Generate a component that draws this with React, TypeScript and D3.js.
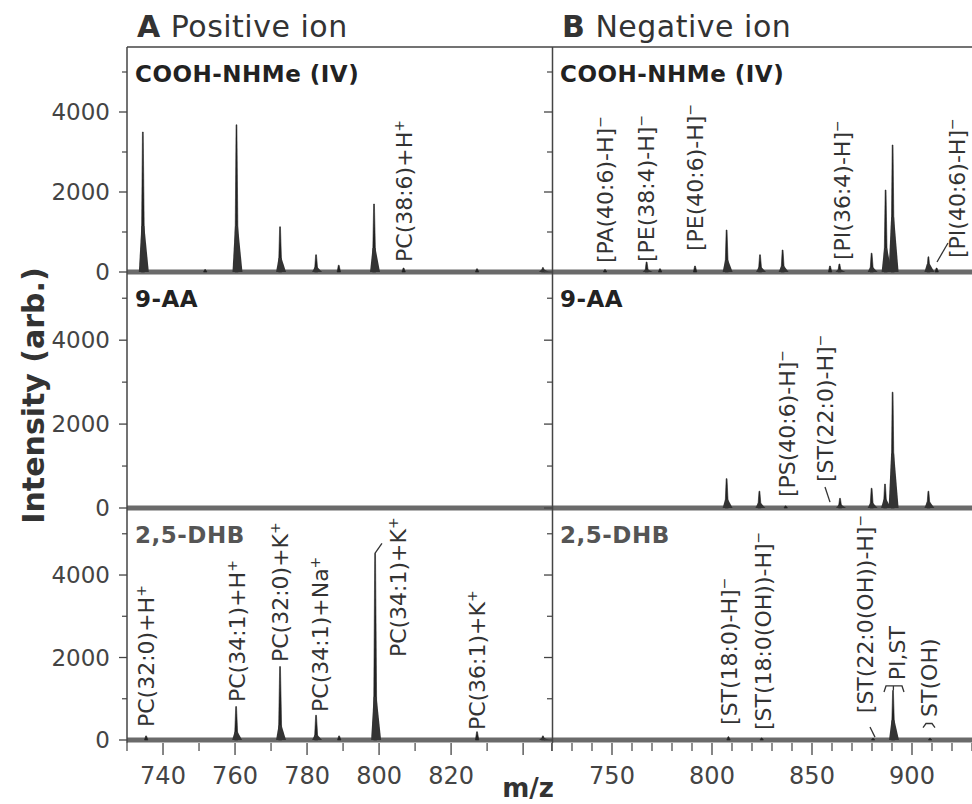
import React from 'react';
import * as d3 from 'd3';

const FONT = '"DejaVu Sans", Verdana, sans-serif';

// ---------- axis data ----------
const yMax = 5625;
const yMajorTicks = [0, 2000, 4000];
const yMinorTicks = [1000, 3000, 5000];
const posMzDomain = [730, 848.3];
const negMzDomain = [720, 932];
const posMajorTicks = [740, 760, 780, 800, 820, 840];
const posTickLabels = [740, 760, 780, 800, 820];
const posMinorTicks = [730, 750, 770, 790, 810, 830, 848];
const negMajorTicks = [750, 800, 850, 900];
const negMinorTicks = [720, 730, 740, 760, 770, 780, 790, 810, 820, 830, 840, 860, 870, 880, 890, 910, 920, 930];
const matrixNames = ['COOH-NHMe (IV)', '9-AA', '2,5-DHB'];

// ---------- peaks: [m/z, apex intensity, broad-base intensity] ----------
const posCoohPeaks = [
  [734.4, 3500, 1150], [751.7, 60, 0], [760.4, 3680, 1150], [772.5, 1130, 350],
  [782.5, 430, 120], [788.8, 170, 0], [798.6, 1700, 600], [806.8, 100, 0],
  [827.2, 80, 0], [845.5, 110, 60],
];
const pos9aaPeaks: number[][] = [];
const posDhbPeaks = [
  [735.3, 100, 0], [760.3, 810, 200], [772.5, 1780, 360], [782.5, 600, 120],
  [788.9, 100, 0], [798.9, 4530, 1050], [827.2, 200, 0], [845.5, 100, 50],
];
const negCoohPeaks = [
  [746.5, 60, 0], [767.3, 250, 60], [774, 80, 0], [791.5, 150, 0], [807.3, 1050, 300],
  [824, 430, 120], [835.3, 550, 150], [859, 150, 0], [863.7, 200, 60], [879.8, 470, 120],
  [886.8, 2050, 600], [890.3, 3175, 1370], [908.2, 380, 200], [912.3, 100, 0],
];
const neg9aaPeaks = [
  [807.3, 700, 200], [823.7, 400, 120], [836.8, 50, 0], [864, 230, 80],
  [879.8, 470, 120], [886.5, 570, 200], [890.3, 2760, 1300], [908.2, 400, 150],
];
const negDhbPeaks = [
  [808.2, 80, 0], [824.8, 50, 0], [880.5, 40, 0], [890.5, 1200, 480], [909, 40, 0],
];

// ---------- labels: [text, superscript, m/z (centre), intensity (bottom of text)] ----------
const posCoohLabels = [['PC(38:6)+H', '+', 806.9, 250]];
const pos9aaLabels: (string | number)[][] = [];
const posDhbLabels = [
  ['PC(32:0)+H', '+', 735.4, 315], ['PC(34:1)+H', '+', 760.7, 920],
  ['PC(32:0)+K', '+', 772.6, 1890], ['PC(34:1)+Na', '+', 783.5, 680],
  ['PC(34:1)+K', '+', 805.4, 2010], ['PC(36:1)+K', '+', 827.2, 240],
];
const negCoohLabels = [
  ['[PA(40:6)-H]', '−', 746.5, 225], ['[PE(38:4)-H]', '−', 767, 250],
  ['[PE(40:6)-H]', '−', 791.5, 525], ['[PI(36:4)-H]', '−', 864.9, 300],
  ['[PI(40:6)-H]', '−', 922.3, 350],
];
const neg9aaLabels = [
  ['[PS(40:6)-H]', '−', 837.3, 260], ['[ST(22:0)-H]', '−', 856.5, 620],
];
const negDhbLabels = [
  ['[ST(18:0)-H]', '−', 808.5, 365], ['[ST(18:0(OH))-H]', '−', 825.7, 240],
  ['[ST(22:0(OH))-H]', '−', 876.5, 650], ['PI,ST', '', 892.3, 1450],
  ['ST(OH)', '', 908.5, 560],
];

// ---------- leader lines: polylines of [m/z, intensity] ----------
const posCoohLeaders: number[][][] = [];
const pos9aaLeaders: number[][][] = [];
const posDhbLeaders = [[[798.9, 4530], [800.8, 4770]]];
const negCoohLeaders = [[[918, 725], [912.5, 250]]];
const neg9aaLeaders = [[[856.5, 500], [859, 140]]];
const negDhbLeaders = [
  [[879, 315], [881.5, 70]],
  [[886, 1165], [887, 1310], [895, 1310], [896, 1165]],
  [[890.7, 1310], [890.7, 1200]],
  [[905.5, 300], [907, 400], [910, 400], [911.5, 300]],
];

// ---------- layout ----------
const W = 972, H = 804;
const panelTops = [47, 272, 508];
const panelBottoms = [272, 508, 740];
const posX = d3.scaleLinear().domain(posMzDomain).range([127, 553]);
const negX = d3.scaleLinear().domain(negMzDomain).range([552, 976]);

const posPanels = [
  { peaks: posCoohPeaks, labels: posCoohLabels, leaders: posCoohLeaders },
  { peaks: pos9aaPeaks, labels: pos9aaLabels, leaders: pos9aaLeaders },
  { peaks: posDhbPeaks, labels: posDhbLabels, leaders: posDhbLeaders },
];
const negPanels = [
  { peaks: negCoohPeaks, labels: negCoohLabels, leaders: negCoohLeaders },
  { peaks: neg9aaPeaks, labels: neg9aaLabels, leaders: neg9aaLeaders },
  { peaks: negDhbPeaks, labels: negDhbLabels, leaders: negDhbLeaders },
];

function Spectrum({ x, y, peaks, labels, leaders, k }: any) {
  const y0 = y(0);
  const line = d3.line<number[]>().x((d) => x(d[0])).y((d) => y(d[1]));
  return (
    <g>
      <line x1={x.range()[0]} x2={Math.min(x.range()[1], W + 5)} y1={y0} y2={y0} stroke="#6a6a6a" strokeWidth={5} />
      {peaks.map((p: number[], i: number) => {
        const px = x(p[0]);
        const spike = `M${px - 1.6},${y0} L${px - 0.4},${y(p[1])} L${px + 0.4},${y(p[1])} L${px + 1.8},${y0} Z`;
        const base = p[2] > 0
          ? `M${px - 4},${y0} L${px - 1.5},${y(p[2])} L${px + 1.5},${y(p[2])} L${px + 6},${y0} Z`
          : '';
        return (
          <g key={`${k}-p-${i}`}>
            <path d={spike} fill="#222" stroke="#222" strokeWidth={0.6} />
            {base && <path d={base} fill="#333" />}
          </g>
        );
      })}
      {leaders.map((l: number[][], i: number) => (
        <path key={`${k}-l-${i}`} d={line(l) || ''} fill="none" stroke="#333" strokeWidth={1.3} />
      ))}
      {labels.map((l: any[], i: number) => (
        <text
          key={`${k}-t-${i}`}
          transform={`translate(${x(l[2])},${y(l[3])}) rotate(-90)`}
          dy="0.36em"
          fontFamily={FONT}
          fontSize={22}
          fill="#333"
        >
          {l[0]}
          {l[1] && <tspan dy={-8} fontSize={14}>{l[1]}</tspan>}
        </text>
      ))}
    </g>
  );
}

export default function App() {
  const ys = panelTops.map((t, i) => d3.scaleLinear().domain([0, yMax]).range([panelBottoms[i], t]));
  const bottomY = panelBottoms[2];
  const axisColor = '#444';
  return (
    <svg
      width={W}
      height={H}
      viewBox={`0 0 ${W} ${H}`}
      style={{ position: 'absolute', left: 0, top: 0, background: '#fff' }}
    >
      <rect x={0} y={0} width={W} height={H} fill="#fff" />
      {/* titles */}
      <text x={137} y={37} fontFamily={FONT} fontSize={30} fill="#333" letterSpacing={0.5}>
        <tspan fontWeight="bold">A</tspan> Positive ion
      </text>
      <text x={562} y={37} fontFamily={FONT} fontSize={30} fill="#333" letterSpacing={0.5}>
        <tspan fontWeight="bold">B</tspan> Negative ion
      </text>

      {/* spectra */}
      {ys.map((y, i) => (
        <g key={`pp-${i}`}>
          <Spectrum x={posX} y={y} k={`pos${i}`} {...posPanels[i]} />
          <Spectrum x={negX} y={y} k={`neg${i}`} {...negPanels[i]} />
        </g>
      ))}

      {/* frame */}
      <line x1={127} x2={W} y1={47} y2={47} stroke={axisColor} strokeWidth={1.5} />
      <line x1={127} x2={127} y1={47} y2={bottomY + 3} stroke={axisColor} strokeWidth={1.5} />
      <line x1={552.5} x2={552.5} y1={47} y2={bottomY + 3} stroke={axisColor} strokeWidth={1.5} />

      {/* y axes */}
      {ys.map((y, i) => (
        <g key={`ya-${i}`}>
          {yMajorTicks.map((t) => (
            <g key={`yM-${i}-${t}`}>
              <line x1={119} x2={127} y1={y(t)} y2={y(t)} stroke={axisColor} strokeWidth={1.3} />
              <line x1={544} x2={552} y1={y(t)} y2={y(t)} stroke={axisColor} strokeWidth={1.3} />
              <text x={110} y={y(t)} dy="0.36em" textAnchor="end" fontFamily={FONT} fontSize={23} fill="#444">
                {t}
              </text>
            </g>
          ))}
          {yMinorTicks.map((t) => (
            <g key={`ym-${i}-${t}`}>
              <line x1={122} x2={127} y1={y(t)} y2={y(t)} stroke={axisColor} strokeWidth={1.2} />
              <line x1={547} x2={552} y1={y(t)} y2={y(t)} stroke={axisColor} strokeWidth={1.2} />
            </g>
          ))}
          <text
            x={135}
            y={panelTops[i] + 35}
            fontFamily={FONT}
            fontSize={23}
            fontWeight="bold"
            letterSpacing={0.5}
            fill={i === 2 ? '#555' : '#222'}
          >
            {matrixNames[i]}
          </text>
          <text
            x={560}
            y={panelTops[i] + 35}
            fontFamily={FONT}
            fontSize={23}
            fontWeight="bold"
            letterSpacing={0.5}
            fill={i === 2 ? '#555' : '#222'}
          >
            {matrixNames[i]}
          </text>
        </g>
      ))}

      {/* x axes */}
      {posMajorTicks.map((t) => (
        <line key={`pxM-${t}`} x1={posX(t)} x2={posX(t)} y1={bottomY + 3} y2={bottomY + 15} stroke={axisColor} strokeWidth={1.3} />
      ))}
      {posMinorTicks.map((t) => (
        <line key={`pxm-${t}`} x1={posX(t)} x2={posX(t)} y1={bottomY + 3} y2={bottomY + 11} stroke={axisColor} strokeWidth={1.2} />
      ))}
      {posTickLabels.map((t) => (
        <text key={`pxl-${t}`} x={posX(t)} y={bottomY + 44} textAnchor="middle" fontFamily={FONT} fontSize={24} fill="#444">
          {t}
        </text>
      ))}
      {negMajorTicks.map((t) => (
        <g key={`nxM-${t}`}>
          <line x1={negX(t)} x2={negX(t)} y1={bottomY + 3} y2={bottomY + 15} stroke={axisColor} strokeWidth={1.3} />
          <text x={negX(t)} y={bottomY + 44} textAnchor="middle" fontFamily={FONT} fontSize={24} fill="#444">
            {t}
          </text>
        </g>
      ))}
      {negMinorTicks.map((t) => (
        <line key={`nxm-${t}`} x1={negX(t)} x2={negX(t)} y1={bottomY + 3} y2={bottomY + 11} stroke={axisColor} strokeWidth={1.2} />
      ))}

      {/* axis titles */}
      <text x={528} y={797} textAnchor="middle" fontFamily={FONT} fontSize={26} fontWeight="bold" fill="#333">
        m/z
      </text>
      <text
        transform={`translate(33,${(panelTops[0] + bottomY) / 2 + 2}) rotate(-90)`}
        dy="0.36em"
        textAnchor="middle"
        fontFamily={FONT}
        fontSize={30}
        fontWeight="bold"
        fill="#333"
      >
        Intensity (arb.)
      </text>
    </svg>
  );
}
